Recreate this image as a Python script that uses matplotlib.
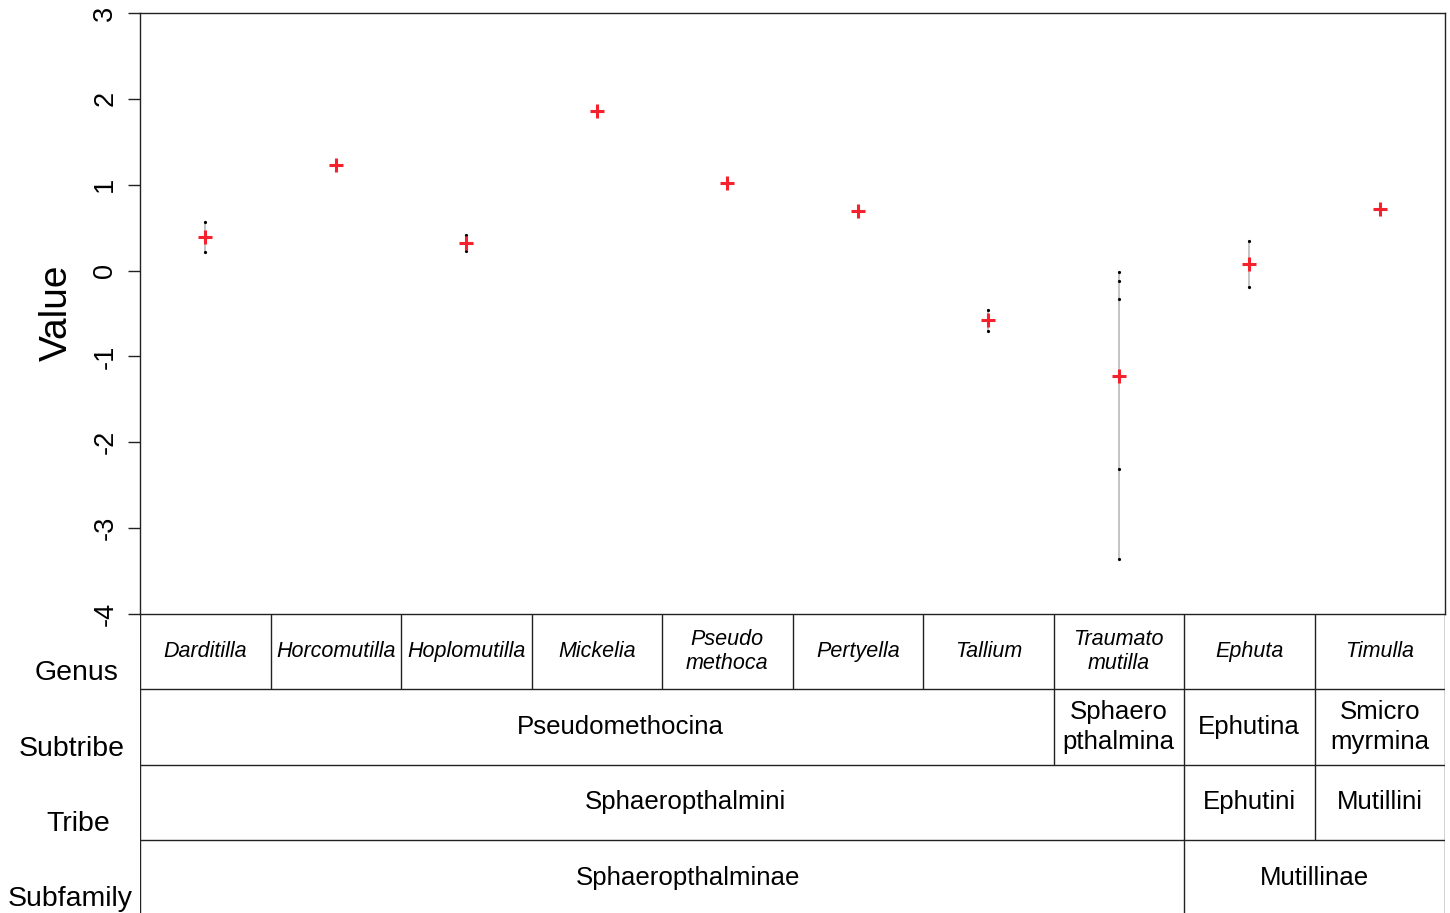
import numpy as np
import matplotlib
matplotlib.use("Agg")
import matplotlib.pyplot as plt

plt.rcParams["font.family"] = ["Liberation Sans", "DejaVu Sans"]

# ── Data ──────────────────────────────────────────────────────────────────────
genera = ["Darditilla", "Horcomutilla", "Hoplomutilla", "Mickelia", "Pseudo\nmethoca",
          "Pertyella", "Tallium", "Traumato\nmutilla", "Ephuta", "Timulla"]
samples = [
    [0.56, 0.22],
    [1.23],
    [0.42, 0.23],
    [1.86],
    [1.02],
    [0.69],
    [-0.455, -0.70],
    [-0.02, -0.125, -0.33, -2.31, -3.36],
    [0.35, -0.19],
    [0.72],
]

subtribes = ["Pseudomethocina", "Sphaero\npthalmina", "Ephutina", "Smicro\nmyrmina"]
subtribe_spans = [7, 1, 1, 1]
tribes = ["Sphaeropthalmini", "Ephutini", "Mutillini"]
tribe_spans = [8, 1, 1]
subfamilies = ["Sphaeropthalminae", "Mutillinae"]
subfamily_spans = [8, 2]
rank_names = ["Genus", "Subtribe", "Tribe", "Subfamily"]

y_ticks = [3, 2, 1, 0, -1, -2, -3, -4]

# ── Figure ───────────────────────────────────────────────────────────────────
W, H = 1450, 913
fig = plt.figure(figsize=(W / 100, H / 100), dpi=100)
LINE = "#222222"

def fx(px):
    return px / W

def fy(py):
    return 1 - py / H

ax_left, ax_right, ax_top, ax_bot = 140, 1445, 13, 614
ax = fig.add_axes([fx(ax_left), fy(ax_bot), fx(ax_right - ax_left), fy(ax_top) - fy(ax_bot)])

n = len(genera)
xs = np.arange(n) + 0.5
for x, vals in zip(xs, samples):
    vals = np.asarray(vals)
    if len(vals) > 1:
        ax.plot([x, x], [vals.min(), vals.max()], color="#c4c4c4", lw=1.4, zorder=1)
        ax.plot(np.full(len(vals), x), vals, "o", color="black", ms=2.3, mew=0, zorder=2)
    ax.plot(x, vals.mean(), "+", color="#f5222d", ms=9.5, mew=2.2, zorder=3)

ax.set_xlim(0, n)
ax.set_ylim(-4, 3)
ax.set_xticks([])
ax.tick_params(axis="y", length=8.6, width=1.0, pad=7, color=LINE,
               labelsize=19.5, labelrotation=90)
ax.set_yticks(y_ticks)
ax.set_yticklabels([str(t) for t in y_ticks])
for lab in ax.get_yticklabels():
    lab.set_va("center")
for s in ax.spines.values():
    s.set_color(LINE)
    s.set_linewidth(1.0)

fig.text(fx(57), fy(313), "Value", rotation=90, ha="center", va="center", fontsize=28)

# ── Taxonomy table ───────────────────────────────────────────────────────────
row_h = 75.3
tb = fig.add_axes([fx(ax_left), 0, fx(ax_right - ax_left), fy(ax_bot)])
ymax = (H - ax_bot) / row_h
tb.set_xlim(0, n)
tb.set_ylim(ymax, 0)
tb.axis("off")

kw = dict(color=LINE, lw=1.0, solid_capstyle="butt")
tb.plot([0, 0], [0, ymax], **kw)
tb.plot([n, n], [0, ymax], **kw)
for r in (1, 2, 3):
    tb.plot([0, n], [r, r], **kw)

# genus row
for i, g in enumerate(genera):
    if i > 0:
        tb.plot([i, i], [0, 1], **kw)
    tb.text(i + 0.5, 0.5, g, ha="center", va="center", style="italic",
            fontsize=15.5, linespacing=1.2)

def group_row(names, spans, row, shift):
    start = 0
    for name, sp in zip(names, spans):
        if start > 0:
            tb.plot([start, start], [row, row + 1], **kw)
        cx = start + sp / 2 + (shift if sp > 2 else 0)
        tb.text(cx, row + 0.5, name, ha="center", va="center", fontsize=18.6,
                linespacing=1.3)
        start += sp

group_row(subtribes, subtribe_spans, 1, 0.18)
group_row(tribes, tribe_spans, 2, 0.18)
group_row(subfamilies, subfamily_spans, 3, 0.2)

label_x = [77, 72, 78, 70]
for r, name in enumerate(rank_names):
    fig.text(fx(label_x[r]), fy(ax_bot + (r + 1) * row_h - 16), name, ha="center",
             va="center", fontsize=20.5)

fig.savefig("out.png", dpi=100)
